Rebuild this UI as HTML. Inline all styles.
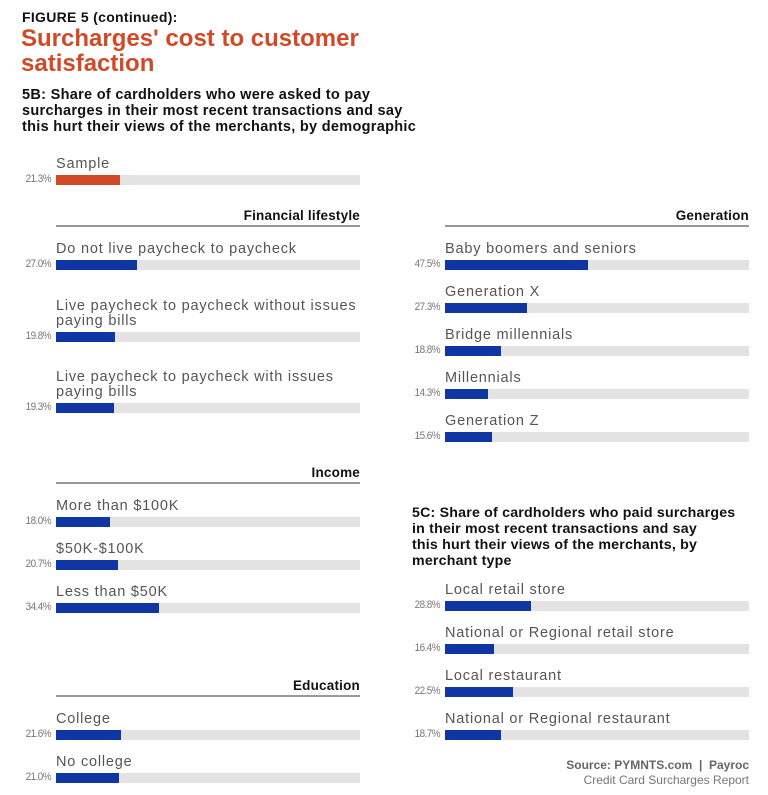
<!DOCTYPE html>
<html><head><meta charset="utf-8"><style>
body{margin:0;width:768px;height:795px;background:#fff;font-family:"Liberation Sans",sans-serif;position:relative;overflow:hidden}
.a{position:absolute;white-space:nowrap}
.lab{position:absolute;font-size:14.5px;color:#555;letter-spacing:0.8px;line-height:15px}
.pct{position:absolute;font-size:11px;color:#777;text-align:right;width:40px;letter-spacing:-0.6px;transform:scaleX(0.9);transform-origin:right}
.bg{position:absolute;height:10px;background:#e3e3e3;width:304px}
.f{position:absolute;left:0;top:0;height:10px;background:#0f36a2}
.h{position:absolute;font-size:13.5px;font-weight:bold;color:#111;text-align:right;width:304px;letter-spacing:0.2px}
.ln{position:absolute;height:2px;background:#999;width:304px}
.sub{position:absolute;font-size:14.5px;font-weight:bold;color:#111;line-height:16px;letter-spacing:0.3px}
</style></head><body>
<div class="a" style="left:22px;top:9px;font-size:14px;font-weight:bold;color:#111;letter-spacing:0.3px">FIGURE 5 (continued):</div>
<div class="a" style="left:21px;top:26px;font-size:24px;font-weight:bold;color:#d04a27;line-height:25px;letter-spacing:0px">Surcharges' cost to customer<br>satisfaction</div>
<div class="sub" style="left:22px;top:87px">5B: Share of cardholders who were asked to pay<br>surcharges in their most recent transactions and say<br>this hurt their views of the merchants, by demographic</div>
<div class="sub" style="left:412px;top:505px;font-size:14.2px;letter-spacing:0.2px">5C: Share of cardholders who paid surcharges<br>in their most recent transactions and say<br>this hurt their views of the merchants, by<br>merchant type</div>

<div class="h" style="left:56px;top:208px">Financial lifestyle</div><div class="ln" style="left:56px;top:225px"></div>
<div class="h" style="left:56px;top:465px">Income</div><div class="ln" style="left:56px;top:482px"></div>
<div class="h" style="left:56px;top:678px">Education</div><div class="ln" style="left:56px;top:695px"></div>
<div class="h" style="left:445px;top:208px">Generation</div><div class="ln" style="left:445px;top:225px"></div>

<div id="c"></div>
<div class="a" style="right:19px;top:758px;font-size:12px;font-weight:bold;color:#666">Source: PYMNTS.com &nbsp;|&nbsp; Payroc</div>
<div class="a" style="right:19px;top:773px;font-size:12px;color:#777">Credit Card Surcharges Report</div>
<script>
var d=[
[56,175,"Sample",21.3,1],
[56,260,"Do not live paycheck to paycheck",27.0],
[56,332,"Live paycheck to paycheck without issues<br>paying bills",19.8],
[56,403,"Live paycheck to paycheck with issues<br>paying bills",19.3],
[56,517,"More than $100K",18.0],
[56,560,"$50K-$100K",20.7],
[56,603,"Less than $50K",34.4],
[56,730,"College",21.6],
[56,773,"No college",21.0],
[445,260,"Baby boomers and seniors",47.5],
[445,303,"Generation X",27.3],
[445,346,"Bridge millennials",18.8],
[445,389,"Millennials",14.3],
[445,432,"Generation Z",15.6],
[445,601,"Local retail store",28.8],
[445,644,"National or Regional retail store",16.4],
[445,687,"Local restaurant",22.5],
[445,730,"National or Regional restaurant",18.7]];
var h="";
d.forEach(function(r){
var lines=r[2].split("<br>").length;
h+='<div class="lab" style="left:'+r[0]+'px;top:'+(r[1]-18-(lines-1)*15)+'px">'+r[2]+'</div>';
h+='<div class="pct" style="left:'+(r[0]-45)+'px;top:'+(r[1]-2)+'px">'+r[3].toFixed(1)+'%</div>';
h+='<div class="bg" style="left:'+r[0]+'px;top:'+r[1]+'px"><div class="f" style="width:'+(r[3]*3.0)+'px;'+(r[4]?'background:#d04a27':'')+'"></div></div>';
});
document.getElementById("c").innerHTML=h;
</script>
</body></html>
